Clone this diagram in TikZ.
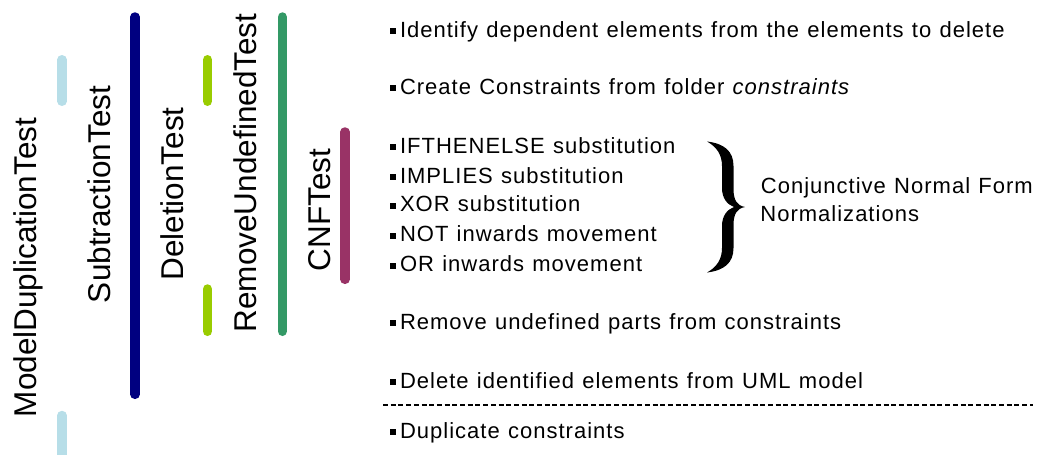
\documentclass[tikz,border=0pt]{standalone}
\usepackage{fontspec}
\setmainfont{Liberation Sans}
\newfontfamily\listfont{Liberation Sans}[LetterSpace=4.6,WordSpace=1.16]
\definecolor{ltblue}{RGB}{183,222,232}
\definecolor{navybar}{RGB}{0,0,128}
\definecolor{ygbar}{RGB}{153,204,0}
\definecolor{greenbar}{RGB}{51,153,102}
\definecolor{purplebar}{RGB}{153,51,102}
\newcommand\itembullet{\raisebox{3.2pt}{\rule{5.8pt}{5.8pt}}\hspace{4pt}}
\begin{document}
\begin{tikzpicture}[x=1pt,y=-1pt,
  rot/.style={rotate=90,anchor=base west,inner sep=0pt,font=\fontsize{31.5}{36}\selectfont},
  item/.style={anchor=base west,inner sep=0pt,font=\listfont\fontsize{22}{26}\selectfont},
  bar/.style={line width=9.5pt,line cap=round},
  dashline/.style={line width=1.3pt,dash pattern=on 5pt off 2.7pt}]
\useasboundingbox (0,0) rectangle (1039,455);
\clip (0,0) rectangle (1039,455);

% bars
\coordinate (mdA) at (62,59.75);   \coordinate (mdB) at (62,101.25);
\coordinate (mdC) at (62,415.5);   \coordinate (mdD) at (62,470);
\coordinate (stA) at (135,17);     \coordinate (stB) at (135,394.3);
\coordinate (dtA) at (207.5,59.75);\coordinate (dtB) at (207.5,101.25);
\coordinate (dtC) at (207.5,289);  \coordinate (dtD) at (207.5,331.3);
\coordinate (ruA) at (282.3,17);   \coordinate (ruB) at (282.3,331.3);
\coordinate (cnA) at (345,132);    \coordinate (cnB) at (345,279.3);
\draw[bar,ltblue] (mdA) -- (mdB);
\draw[bar,ltblue] (mdC) -- (mdD);
\draw[bar,navybar] (stA) -- (stB);
\draw[bar,ygbar] (dtA) -- (dtB);
\draw[bar,ygbar] (dtC) -- (dtD);
\draw[bar,greenbar] (ruA) -- (ruB);
\draw[bar,purplebar] (cnA) -- (cnB);

% rotated test names
\node[rot] (md) at (36.7,417.3) {ModelDuplicationTest};
\node[rot] (st) at (110,303.2) {SubtractionTest};
\node[rot] (dt) at (183.3,280.8) {DeletionTest};
\node[rot] (ru) at (256.7,332.5) {RemoveUndefinedTest};
\node[rot] (cn) at (330,271.6) {CNFTest};

% list items
\node[item] (i1) at (390,37.3) {\itembullet Identify dependent elements from the elements to delete};
\node[item] (i2) at (390,94) {\itembullet Create Constraints from folder \textit{constraints}};
\node[item] (i3) at (390,153.3) {\itembullet IFTHENELSE substitution};
\node[item] (i4) at (390,183.3) {\itembullet IMPLIES substitution};
\node[item] (i5) at (390,211.7) {\itembullet XOR substitution};
\node[item] (i6) at (390,241.7) {\itembullet NOT inwards movement};
\node[item] (i7) at (390,271.7) {\itembullet OR inwards movement};
\node[item] (i8) at (390,329.3) {\itembullet Remove undefined parts from constraints};
\node[item] (i9) at (390,388.3) {\itembullet Delete identified elements from UML model};
\node[item] (i10) at (390,438.3) {\itembullet Duplicate constraints};

% brace
\fill[black] (707,141.5) .. controls (724,143.5) and (733.5,151) .. (733.5,166) -- (733.5,189)
  .. controls (733.5,200) and (737,205.5) .. (745,207)
  .. controls (737,208.5) and (733.5,214) .. (733.5,225) -- (733.5,248)
  .. controls (733.5,263) and (724,270.5) .. (707,272.5)
  .. controls (717,267) and (722,259) .. (722,248) -- (722,226)
  .. controls (722,216) and (727,209.5) .. (734,207)
  .. controls (727,204.5) and (722,198) .. (722,188) -- (722,166)
  .. controls (722,155) and (717,147) .. (707,141.5) -- cycle;

\node[item] (cnf1) at (760.7,193.3) {Conjunctive Normal Form};
\node[item] (cnf2) at (760.2,221.7) {Normalizations};

% dashed separator
\coordinate (dl) at (383,405);
\coordinate (dr) at (1033,405);
\draw[dashline] (dl) -- (dr);
\end{tikzpicture}
\end{document}
